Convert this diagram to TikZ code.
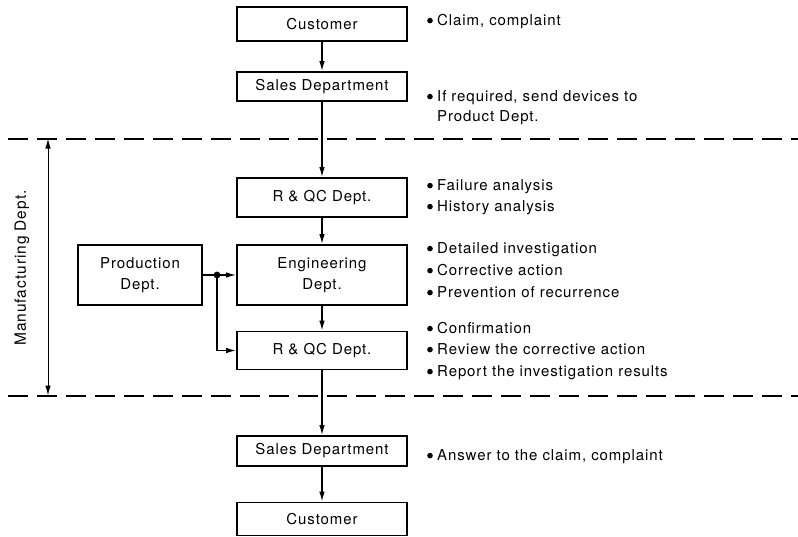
\documentclass[tikz,border=0pt]{standalone}
\usepackage{fontspec}
\setmainfont{TeX Gyre Heros}[LetterSpace=6]
\usetikzlibrary{arrows.meta}
\tikzset{
  deptbox/.style={draw, line width=1.8pt, minimum width=170pt, inner sep=0pt, align=center, font=\fontsize{15}{21}\selectfont},
  flow/.style={line width=1.3pt, -{Latex[length=10pt,width=5.5pt]}},
  sep line/.style={line width=2pt, dash pattern=on 20pt off 9pt},
  note/.style={anchor=base west, inner sep=0pt, font=\fontsize{15}{21}\selectfont},
}
% a filled dot in front of each note line
\newcommand{\bul}{\makebox[10pt][l]{\tikz[baseline]\fill (2.8pt,4.4pt) circle (2.8pt);}}
\begin{document}
\begin{tikzpicture}[x=1pt,y=-1pt]
\useasboundingbox (0,0) rectangle (798,536);

% department boxes, top to bottom
\node[deptbox, minimum height=34pt] (cust1) at (322,24) {Customer};
\node[deptbox, minimum height=29pt] (sales1) at (322,86.5) {Sales Department};
\node[deptbox, minimum height=39pt] (rqc1) at (322,197.5) {R \& QC Dept.};
\node[deptbox, minimum height=60pt] (eng) at (322,275) {Engineering\\Dept.};
\node[deptbox, minimum height=60pt, minimum width=124pt] (prod) at (140,275) {Production\\Dept.};
\node[deptbox, minimum height=38pt] (rqc2) at (322,350.5) {R \& QC Dept.};
\node[deptbox, minimum height=30pt] (sales2) at (322,451) {Sales Department};
\node[deptbox, minimum height=33pt] (cust2) at (322,519) {Customer};

% boundaries of the manufacturing department
\coordinate (d1l) at (8,138.5);
\coordinate (d1r) at (798,138.5);
\coordinate (d2l) at (8,395.5);
\coordinate (d2r) at (798,395.5);
\draw[sep line] (d1l) -- (d1r);
\draw[sep line] (d2l) -- (d2r);

\coordinate (mtop) at (48,138.5);
\coordinate (mbot) at (48,395.5);
\draw[line width=1pt, {Latex[length=10pt,width=5.5pt]}-{Latex[length=10pt,width=5.5pt]}] (mtop) -- (mbot);
\node[rotate=90, font=\fontsize{15.5}{21}\selectfont] (mlabel) at (22,268) {Manufacturing Dept.};

% main flow
\draw[flow] (cust1) -- (sales1);
\draw[flow] (sales1) -- (rqc1);
\draw[flow] (rqc1) -- (eng);
\draw[flow] (eng) -- (rqc2);
\draw[flow] (rqc2) -- (sales2);
\draw[flow] (sales2) -- (cust2);

% production department feeds engineering and R & QC
\coordinate (junc) at (217,275);
\draw[line width=1.3pt] (prod.east) -- (junc);
\draw[flow] (junc) -- (eng.west);
\draw[flow] (junc) |- (rqc2.west);
\fill (junc) circle (3.4pt);

% notes beside each step
\node[note] (n1) at (427,25) {\bul Claim, complaint};
\node[note] (n2) at (427,101) {\bul If required, send devices to};
\node[note] (n2b) at (437,121) {Product Dept.};
\node[note] (n3) at (427,190) {\bul Failure analysis};
\node[note] (n4) at (427,211) {\bul History analysis};
\node[note] (n5) at (427,253) {\bul Detailed investigation};
\node[note] (n6) at (427,275) {\bul Corrective action};
\node[note] (n7) at (427,297) {\bul Prevention of recurrence};
\node[note] (n8) at (427,333) {\bul Confirmation};
\node[note] (n9) at (427,354) {\bul Review the corrective action};
\node[note] (n10) at (427,376) {\bul Report the investigation results};
\node[note] (n11) at (427,460) {\bul Answer to the claim, complaint};
\end{tikzpicture}
\end{document}
